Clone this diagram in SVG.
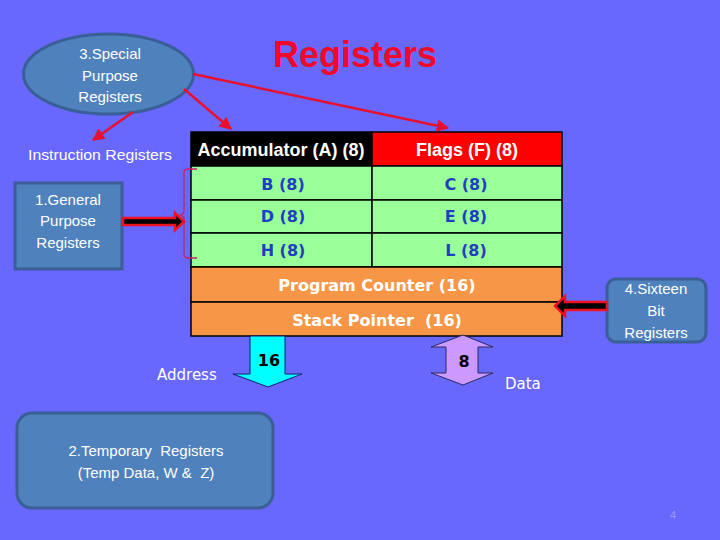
<svg xmlns="http://www.w3.org/2000/svg" width="720" height="540" viewBox="0 0 720 540">
<defs>
<marker id="ah" viewBox="0 0 10 10" refX="9" refY="5" markerWidth="5" markerHeight="5" orient="auto" markerUnits="strokeWidth">
<path d="M0,0 L10,5 L0,10 z" fill="#e8102e"/>
</marker>
<style>
.bx{fill:#4f81bd;stroke:#3a5f96;stroke-width:3}
.wt{fill:#ffffff;font-family:"Liberation Sans",Arial,sans-serif;font-size:15px;text-anchor:middle}
.cell{stroke:#000;stroke-width:1.5}
.hd{fill:#ffffff;font-family:"Liberation Sans",Arial,sans-serif;font-size:18px;font-weight:bold;text-anchor:middle}
.bl{fill:#1f3fbf;font-family:"DejaVu Sans",Verdana,sans-serif;font-size:16px;font-weight:bold;text-anchor:middle}
.or{fill:#ffffff;font-family:"DejaVu Sans",Verdana,sans-serif;font-size:16px;font-weight:bold;text-anchor:middle}
.lbl{fill:#ffffff;font-family:"DejaVu Sans",Verdana,sans-serif;font-size:15px}
.rl{stroke:#e8102e;stroke-width:2.5;fill:none;marker-end:url(#ah)}
.fat{fill:#000;stroke:#ee1122;stroke-width:2.5}
.num{fill:#000;font-family:"DejaVu Sans",Verdana,sans-serif;font-size:16px;font-weight:bold;text-anchor:middle}
</style>
</defs>
<rect width="720" height="540" fill="#6868ff"/>

<text x="273" y="67" fill="#ee0a2a" font-family="'Liberation Sans',Arial,sans-serif" font-size="37" font-weight="bold" textLength="164" lengthAdjust="spacingAndGlyphs">Registers</text>

<g id="special">
<ellipse cx="108.5" cy="74" rx="85" ry="40" class="bx"/>
<text class="wt" x="110" y="59">3.Special</text>
<text class="wt" x="110" y="81">Purpose</text>
<text class="wt" x="110" y="102">Registers</text>
</g>

<g id="instruction">
<text x="100" y="160" fill="#ffffff" font-family="'Liberation Sans',Arial,sans-serif" font-size="15" text-anchor="middle" textLength="144" lengthAdjust="spacingAndGlyphs">Instruction Registers</text>
</g>

<g id="general">
<rect x="15" y="183" width="107" height="86" class="bx"/>
<text class="wt" x="68" y="205">1.General</text>
<text class="wt" x="68" y="226">Purpose</text>
<text class="wt" x="68" y="248">Registers</text>
</g>

<g id="table">
<rect x="191" y="132" width="181" height="34" fill="#000" class="cell"/>
<rect x="372" y="132" width="190" height="34" fill="#ff0000" class="cell"/>
<rect x="191" y="166" width="181" height="34" fill="#99ff99" class="cell"/>
<rect x="372" y="166" width="190" height="34" fill="#99ff99" class="cell"/>
<rect x="191" y="200" width="181" height="33" fill="#99ff99" class="cell"/>
<rect x="372" y="200" width="190" height="33" fill="#99ff99" class="cell"/>
<rect x="191" y="233" width="181" height="34" fill="#99ff99" class="cell"/>
<rect x="372" y="233" width="190" height="34" fill="#99ff99" class="cell"/>
<rect x="191" y="267" width="371" height="35" fill="#f79646" class="cell"/>
<rect x="191" y="302" width="371" height="34" fill="#f79646" class="cell"/>
<text class="hd" x="281" y="156">Accumulator (A) (8)</text>
<text class="hd" x="467" y="156">Flags (F) (8)</text>
<text class="bl" x="283" y="190">B (8)</text>
<text class="bl" x="466" y="190">C (8)</text>
<text class="bl" x="283" y="222">D (8)</text>
<text class="bl" x="466" y="222">E (8)</text>
<text class="bl" x="283" y="256">H (8)</text>
<text class="bl" x="466" y="256">L (8)</text>
<text class="or" x="377" y="291">Program Counter (16)</text>
<text class="or" x="377" y="326" xml:space="preserve">Stack Pointer  (16)</text>
</g>

<g id="sixteen">
<rect x="607" y="279" width="99" height="63" rx="9" class="bx"/>
<text class="wt" x="656" y="294">4.Sixteen</text>
<text class="wt" x="656" y="316">Bit</text>
<text class="wt" x="656" y="338">Registers</text>
</g>

<g id="temporary">
<rect x="17" y="413" width="256" height="95" rx="15" class="bx"/>
<text class="wt" x="146" y="456" font-size="16" xml:space="preserve">2.Temporary  Registers</text>
<text class="wt" x="146" y="478" font-size="16" xml:space="preserve">(Temp Data, W &amp;  Z)</text>
</g>

<g id="address">
<text class="lbl" x="157" y="380">Address</text>
</g>
<g id="data">
<text class="lbl" x="505" y="389">Data</text>
</g>

<g id="connectors">
<line class="rl" x1="193" y1="74" x2="448" y2="128"/>
<line class="rl" x1="184" y1="89" x2="231" y2="129"/>
<line class="rl" x1="133" y1="112" x2="93" y2="140"/>
<path d="M197,169 L188,169 Q184,169 184,173 L184,211 Q184,214 180,215 Q184,216 184,219 L184,254 Q184,258 188,258 L197,258" fill="none" stroke="#c8206a" stroke-width="1.3"/>
<polygon class="fat" points="123,218 175,218 175,213 184,221.5 175,230 175,225 123,225"/>
<polygon class="fat" points="607,302 565,302 565,296 555,306 565,316 565,310 607,310"/>
<polygon points="250,336 285,336 285,374 302,374 268,387 233,374 250,374" fill="#00ffff" stroke="#1a1a70" stroke-width="1"/>
<text class="num" x="269" y="366">16</text>
<polygon points="463,335 493,347 478,347 478,373 493,373 463,385 431,373 446,373 446,347 431,347" fill="#cc99ff" stroke="#2a2a60" stroke-width="1"/>
<text class="num" x="464" y="367">8</text>
</g>

<text x="673" y="519" fill="#9a9aff" font-family="'Liberation Sans',Arial,sans-serif" font-size="11" text-anchor="middle">4</text>
</svg>
